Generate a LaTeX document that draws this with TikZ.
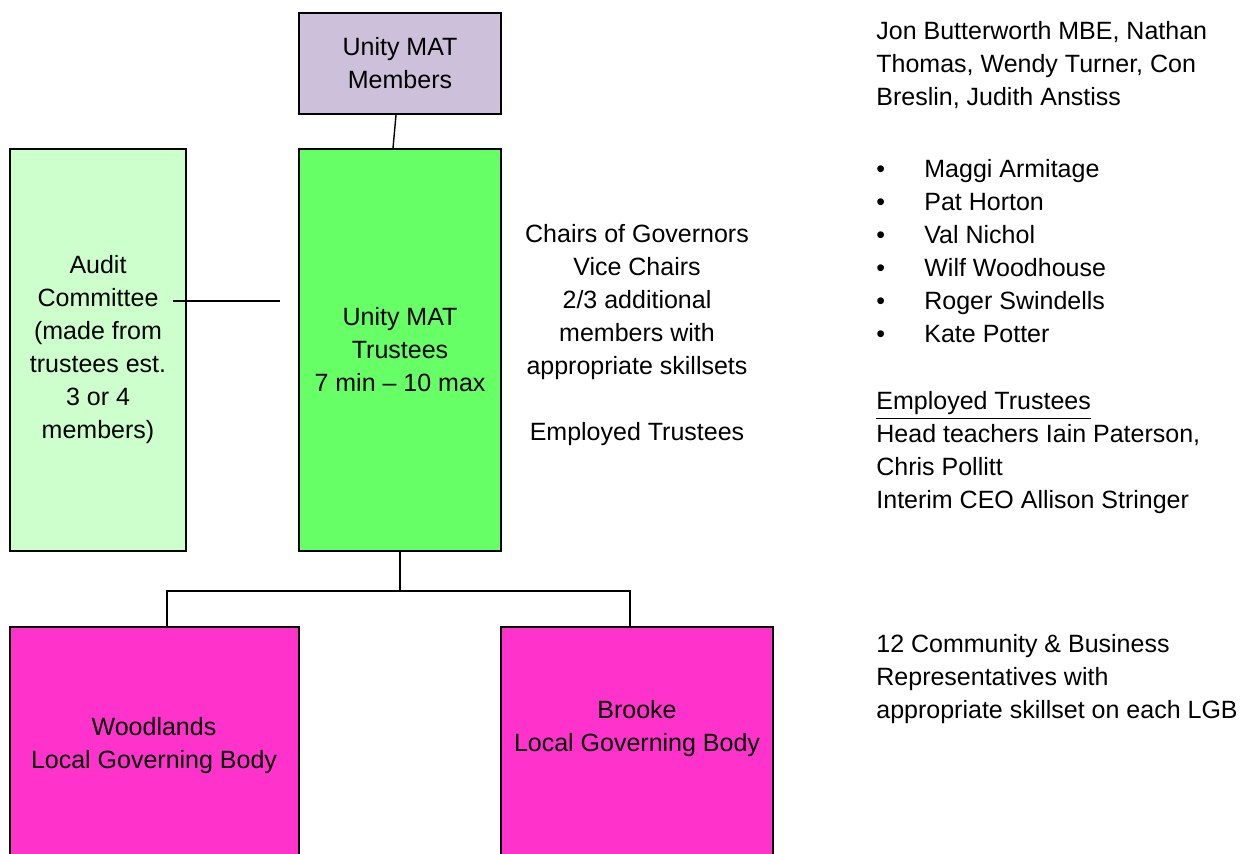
\documentclass[tikz,border=0pt]{standalone}
\usepackage{fontspec}
\setmainfont{Liberation Sans}
\definecolor{membersfill}{HTML}{CCC0DA}
\definecolor{trusteesfill}{HTML}{66FF66}
\definecolor{auditfill}{HTML}{CCFFCC}
\definecolor{lgbfill}{HTML}{FF33CC}
\tikzset{
  box/.style={draw,line width=1pt,inner sep=0pt,align=center},
  txt/.style={inner sep=0pt,align=left,anchor=west},
  link/.style={line width=0.7pt}
}
\begin{document}
\begin{tikzpicture}[x=0.5pt,y=-0.5pt,every node/.style={font=\fontsize{12.5}{16.5}\selectfont}]
        \useasboundingbox (0,0) rectangle (1246,854);
        \clip (0,0) rectangle (1246,854);
        \node[box,fill=membersfill,minimum width=101pt,minimum height=50.5pt] (members) at (400,63.5) {Unity MAT\\Members};
        \node[box,fill=trusteesfill,minimum width=101pt,minimum height=201pt] (trustees) at (400,350) {Unity MAT\\Trustees\\7 min -- 10 max};
        \node[box,fill=auditfill,minimum width=88pt,minimum height=201pt] (audit) at (98,350) {Audit\\Committee\\(made from\\trustees est.\\3 or 4\\members)};
        \node[box,fill=lgbfill,minimum width=144.5pt,minimum height=136.5pt] (woodlands) at (154.5,763.5) {};
        \node[box,fill=lgbfill,minimum width=136pt,minimum height=136.5pt] (brooke) at (637,763.5) {};
        \node[align=center,inner sep=0pt] (woodlandstext) at (154,746) {Woodlands\\Local Governing Body};
        \node[align=center,inner sep=0pt] (brooketext) at (637,729) {Brooke\\Local Governing Body};
        \node[align=center,inner sep=0pt] (chairs) at (637,335.5) {Chairs of Governors\\Vice Chairs\\2/3 additional\\members with\\appropriate skillsets\\[16.5pt]Employed Trustees};
        \node[txt] (membernames) at (876,65) {Jon Butterworth MBE, Nathan\\Thomas, Wendy Turner, Con\\Breslin, Judith Anstiss};
        \node[txt] (trusteenames) at (876,251.5) {\makebox[24pt][l]{\textbullet}Maggi Armitage\\\makebox[24pt][l]{\textbullet}Pat Horton\\\makebox[24pt][l]{\textbullet}Val Nichol\\\makebox[24pt][l]{\textbullet}Wilf Woodhouse\\\makebox[24pt][l]{\textbullet}Roger Swindells\\\makebox[24pt][l]{\textbullet}Kate Potter};
        \node[txt] (employednames) at (876,453) {\underline{Employed Trustees}\\Head teachers Iain Paterson,\\Chris Pollitt\\Interim CEO Allison Stringer};
        \node[txt] (community) at (876,679.5) {12 Community \& Business\\Representatives with\\appropriate skillset on each LGB};
        \coordinate (fork) at (400,591);
        \coordinate (auditline) at (173,301);
        \coordinate (trusteesline) at (280,301);
        \draw[link] ([xshift=-2pt]members.south) -- ([xshift=-3.5pt]trustees.north);
        \draw[link] (auditline) -- (trusteesline);
        \draw[link] (trustees.south) -- (fork);
        \draw[link] ([xshift=6.25pt]woodlands.north) |- (fork) -| ([xshift=-3.5pt]brooke.north);
\end{tikzpicture}
\end{document}
